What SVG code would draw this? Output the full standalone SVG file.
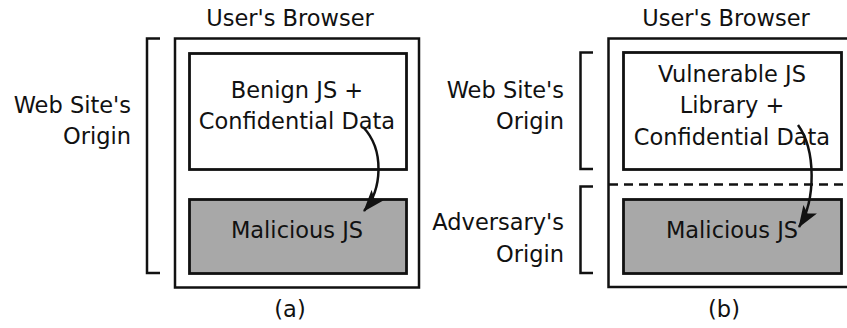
<svg xmlns="http://www.w3.org/2000/svg" width="847" height="328" viewBox="0 0 847 328">
<style>
text{font-family:"DejaVu Sans","Liberation Sans",sans-serif;font-size:22.5px;fill:#111}
.c{text-anchor:middle}
.r{text-anchor:end}
.outer{fill:none;stroke:#111;stroke-width:2.5}
.box{fill:#fff;stroke:#111;stroke-width:2.8}
.gray{fill:#a8a8a8;stroke:#111;stroke-width:2.8}
.br{fill:none;stroke:#111;stroke-width:2.5}
.dash{stroke:#111;stroke-width:2.5;stroke-dasharray:9 6}
.arr{fill:none;stroke:#111;stroke-width:2.5;marker-end:url(#ah)}
</style>
<defs>
<marker id="ah" viewBox="0 0 22 16" refX="21" refY="8" markerWidth="22" markerHeight="16" markerUnits="userSpaceOnUse" orient="auto">
<path d="M0,0 L22,8 L0,16 L5,8 Z" fill="#111"/>
</marker>
</defs>
<g id="panel-a">
<text class="c" x="290" y="26">User's Browser</text>
<rect class="outer" x="175" y="38.5" width="244" height="249"/>
<path class="br" d="M160,38.5 H147 V273 H160"/>
<text class="r" x="131" y="113">Web Site's</text>
<text class="r" x="131" y="144">Origin</text>
<g id="a-benign">
<rect class="box" x="189.5" y="53.5" width="217" height="116"/>
<text class="c" x="297" y="98">Benign JS +</text>
<text class="c" x="297" y="129">Confidential Data</text>
</g>
<g id="a-malicious">
<rect class="gray" x="189.5" y="199.5" width="217" height="74"/>
<text class="c" x="297" y="238">Malicious JS</text>
</g>
<text class="c" x="290" y="317">(a)</text>
</g>
<g id="panel-b">
<text class="c" x="726" y="26">User's Browser</text>
<path class="outer" d="M850,38.5 H608.5 V287 H850"/>
<line class="dash" x1="609" y1="184.5" x2="847" y2="184.5"/>
<path class="br" d="M593,52.5 H580.5 V169 H593"/>
<path class="br" d="M593,186.5 H580.5 V273 H593"/>
<text class="r" x="564" y="98">Web Site's</text>
<text class="r" x="564" y="129">Origin</text>
<text class="r" x="564" y="230">Adversary's</text>
<text class="r" x="564" y="262">Origin</text>
<g id="b-vulnerable">
<rect class="box" x="623.5" y="52.5" width="218" height="117"/>
<text class="c" x="732" y="82">Vulnerable JS</text>
<text class="c" x="732" y="113">Library +</text>
<text class="c" x="732" y="145">Confidential Data</text>
</g>
<g id="b-malicious">
<rect class="gray" x="623.5" y="199.5" width="218" height="74"/>
<text class="c" x="732" y="238">Malicious JS</text>
</g>
<text class="c" x="724" y="317">(b)</text>
</g>
<g id="connectors">
<path class="arr" d="M363,127 C385,150 382,190 364,211"/>
<path class="arr" d="M798,125 C816,150 816,200 799,227"/>
</g>
</svg>
